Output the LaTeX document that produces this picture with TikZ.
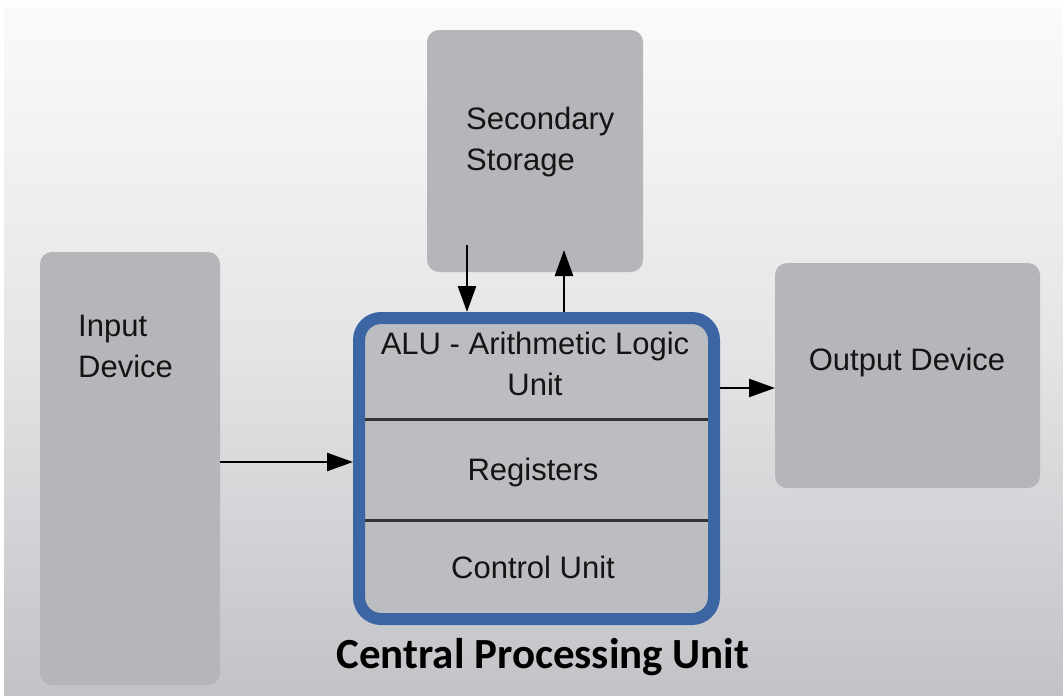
\documentclass[tikz,border=0pt]{standalone}
\usepackage{fontspec}
\setmainfont{Liberation Sans}
\newfontfamily\cpufont{Carlito}
\usetikzlibrary{arrows.meta}
\definecolor{bgTop}{HTML}{FBFBFB}
\definecolor{bgBot}{HTML}{C2C3C7}
\definecolor{boxFill}{HTML}{B5B6BA}
\definecolor{cpuFill}{HTML}{BCBDC1}
\definecolor{cpuBlue}{HTML}{3B66A3}
\definecolor{txt}{HTML}{141414}
\tikzset{
  graybox/.style={draw=none, fill=boxFill, rounded corners=12pt, inner sep=0pt, outer sep=0pt},
  lbl/.style={font=\fontsize{31}{41}\selectfont, text=txt, inner sep=0pt},
  arr/.style={line width=2.5pt, draw=black, -{Triangle[length=26pt,width=18pt]}},
  divline/.style={line width=3pt, draw=black!80},
}
\begin{document}
\begin{tikzpicture}[x=1pt,y=-1pt]
\useasboundingbox (0,0) rectangle (1063,696);
\shade[top color=bgTop, bottom color=bgBot, middle color=bgTop!60!bgBot] (0,0) rectangle (1063,696);
\fill[white] (0,0) rectangle (1063,7);
\fill[white] (0,0) rectangle (4,696);

% boxes
\node[graybox, minimum width=216pt, minimum height=242pt] (storage) at (535,151) {};
\node[graybox, minimum width=180pt, minimum height=433pt] (input) at (130,468.5) {};
\node[graybox, minimum width=265pt, minimum height=225pt] (output) at (907.5,375.5) {};
\node[draw=cpuBlue, line width=12pt, fill=cpuFill, rounded corners=22pt, minimum width=355pt, minimum height=301pt, inner sep=0pt, outer sep=6pt] (cpu) at (536.5,468.5) {};

% dividers
\coordinate (dv1) at (365,419);
\coordinate (dv2) at (365,520);
\draw[divline] (dv1) -- (dv1 -| 708,0);
\draw[divline] (dv2) -- (dv2 -| 708,0);

% texts
\node[lbl, anchor=west, align=left] (tstorage) at (466,142) {Secondary\\Storage};
\node[lbl, anchor=west, align=left] (tinput) at (78,346) {Input\\Device};
\node[lbl] (toutput) at (907,362) {Output Device};
\node[lbl, align=center] (talu) at (535,364) {ALU - Arithmetic Logic\\Unit};
\node[lbl] (treg) at (533,472) {Registers};
\node[lbl] (tcu) at (533,567) {Control Unit};
\node[font=\cpufont\bfseries\fontsize{43}{50}\selectfont, text=black, inner sep=0pt] (tcpu) at (543,657) {Central Processing Unit};

% arrows
\coordinate (sdown) at (467,245);
\coordinate (supx) at (564,0);
\coordinate (iny) at (0,462);
\coordinate (outy) at (0,388);
\draw[arr] (sdown) -- (sdown |- cpu.north);
\draw[arr] (supx |- cpu.north) -- (564,250);
\draw[arr] (input.east |- iny) -- (cpu.west |- iny);
\draw[arr] (cpu.east |- outy) -- (output.west |- outy);
\end{tikzpicture}
\end{document}
